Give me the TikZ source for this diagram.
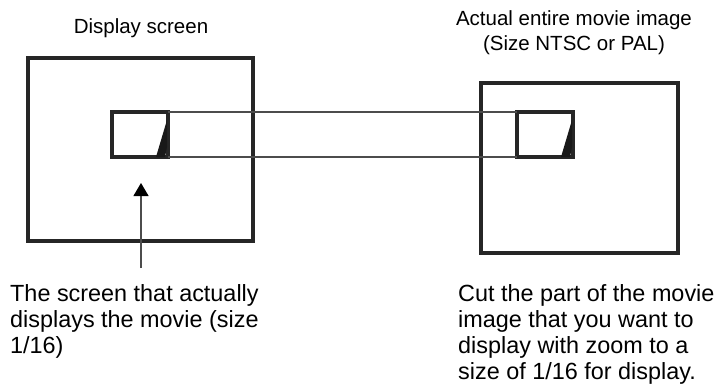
\documentclass[tikz,border=0pt]{standalone}
\usepackage{fontspec}
\setmainfont{Liberation Sans}
\usetikzlibrary{arrows.meta, positioning, calc}

\tikzset{
  frame/.style={draw=black!85, line width=3.3pt, inner sep=0pt, outer sep=0pt, anchor=north west},
  window/.style={draw=black!85, line width=3.2pt, inner sep=0pt, outer sep=0pt, anchor=north west,
                 minimum width=56pt, minimum height=45pt},
  guide/.style={draw=black!70, line width=1.2pt},
  toplabel/.style={font=\fontsize{20.5}{24.5}\selectfont, inner sep=0pt, align=center},
  note/.style={font=\fontsize{23.4}{26}\selectfont, inner sep=0pt, align=left, anchor=base west},
}

\begin{document}
\begin{tikzpicture}[x=1pt, y=-1pt, >=Stealth]
  \useasboundingbox (0,0) rectangle (715,383);

  % Display screen (left)
  \node[toplabel, anchor=base] (screenlabel) at (141,33) {Display screen};
  \node[frame, minimum width=225pt, minimum height=183pt] (screen) at (28,58) {};
  \node[window] (shown) at (112,112) {};
  \fill[black!90] (shown.south east) ++(-12,0) -- ++(9,0) -- ++(2,-10) -- ++(0,-27) -- cycle;

  % Actual entire movie image (right)
  \node[toplabel, anchor=base] (movielabel) at (574,50) {Actual entire movie image\\(Size NTSC or PAL)};
  \node[frame, minimum width=197pt, minimum height=170pt] (movie) at (481,83) {};
  \node[window] (cut) at (517,112) {};
  \fill[black!90] (cut.south east) ++(-12,0) -- ++(9,0) -- ++(2,-10) -- ++(0,-27) -- cycle;

  % Guides between the two windows
  \draw[guide] (shown.north east) -- (cut.north west);
  \draw[guide] (shown.south east) -- (cut.south west);

  % Pointer to the displayed window
  \coordinate (tail) at (141,268);
  \coordinate (tip) at (141,183);
  \draw[guide, -{Triangle[length=13pt, width=15pt, black]}] (tail) -- (tip);

  % Notes
  \node[note] (shownnote) at (10,353) {The screen that actually\\displays the movie (size\\1/16)};
  \node[note] (cutnote) at (458,379) {Cut the part of the movie\\image that you want to\\display with zoom to a\\size of 1/16 for display.};
\end{tikzpicture}
\end{document}
